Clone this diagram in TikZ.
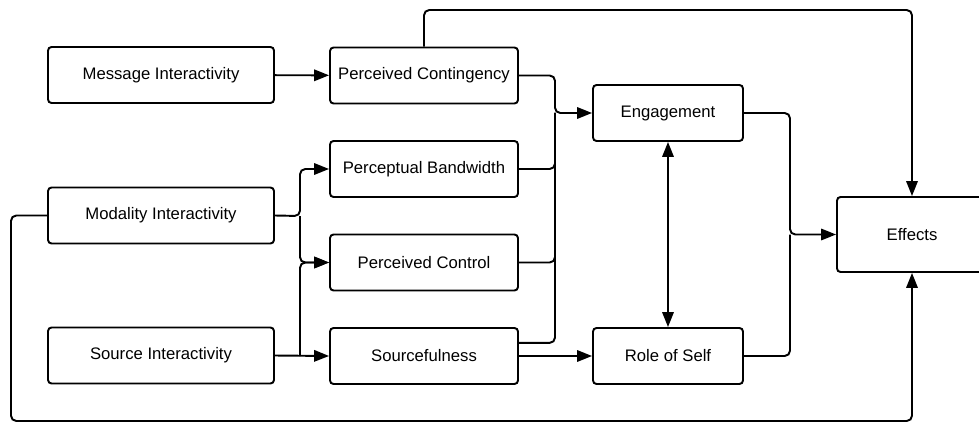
\documentclass[tikz,border=0pt]{standalone}
\usepackage{fontspec}
\setmainfont{Liberation Sans}
\usetikzlibrary{arrows.meta}
\begin{document}
\begin{tikzpicture}[x=0.02cm,y=-0.02cm,line width=1.1pt,
    box/.style={draw,rounded corners=2pt,minimum height=1.12cm,inner sep=0pt,
      font=\fontsize{9.5}{11}\selectfont},
    left/.style={box,minimum width=4.52cm},
    mid/.style={box,minimum width=3.76cm},
    right/.style={box,minimum width=3cm},
    >={Triangle[length=8.5pt,width=6.5pt]}]
  \useasboundingbox (0,0) rectangle (979,422);
  \draw
    (161,75) node[left] (msg){Message Interactivity}
    (161,215.5) node[left] (mod){Modality Interactivity}
    (161,355.5) node[left] (src){Source Interactivity}
    (424,75.5) node[mid] (cont){Perceived Contingency}
    (424,169) node[mid] (band){Perceptual Bandwidth}
    (424,262.5) node[mid] (ctrl){Perceived Control}
    (424,356) node[mid] (srcf){Sourcefulness}
    (668,113) node[right] (eng){Engagement}
    (668,356) node[right] (self){Role of Self}
    (912,234.5) node[box,minimum width=3cm,minimum height=1.5cm] (eff){Effects};
  \coordinate (jmod) at (300,216);
  \coordinate (jsrc) at (300,356);
  \coordinate (jeng) at (555,113);
  \coordinate (jeff) at (790,234.5);
  \coordinate (top) at (912,10);
  \coordinate (low) at (11,421);
  \begin{scope}[->,rounded corners=3pt]
    \draw (msg) to (cont);
    \draw (cont.north) |- (top) -- (eff.north);
    \draw (cont.east) -| (jeng) -- (eng.west);
    \draw (mod.east) -- (jmod) |- (band.west);
    \draw (jmod) |- (ctrl.west);
    \draw (jsrc) |- (ctrl.west);
    \draw (src.east) -- (srcf.west);
    \draw (srcf.east) -- (self.west);
    \draw[<->] (eng) to (self);
    \draw (eng.east) -| (jeff) -- (eff.west);
    \draw (mod.west) -| (low) -| (eff.south);
  \end{scope}
  \begin{scope}[-,rounded corners=3pt]
    \draw (band.east) -| (jeng);
    \draw (ctrl.east) -| (jeng);
    \draw ([yshift=-9pt]srcf.north east) -| (jeng);
    \draw (self.east) -| (jeff);
  \end{scope}
\end{tikzpicture}
\end{document}
